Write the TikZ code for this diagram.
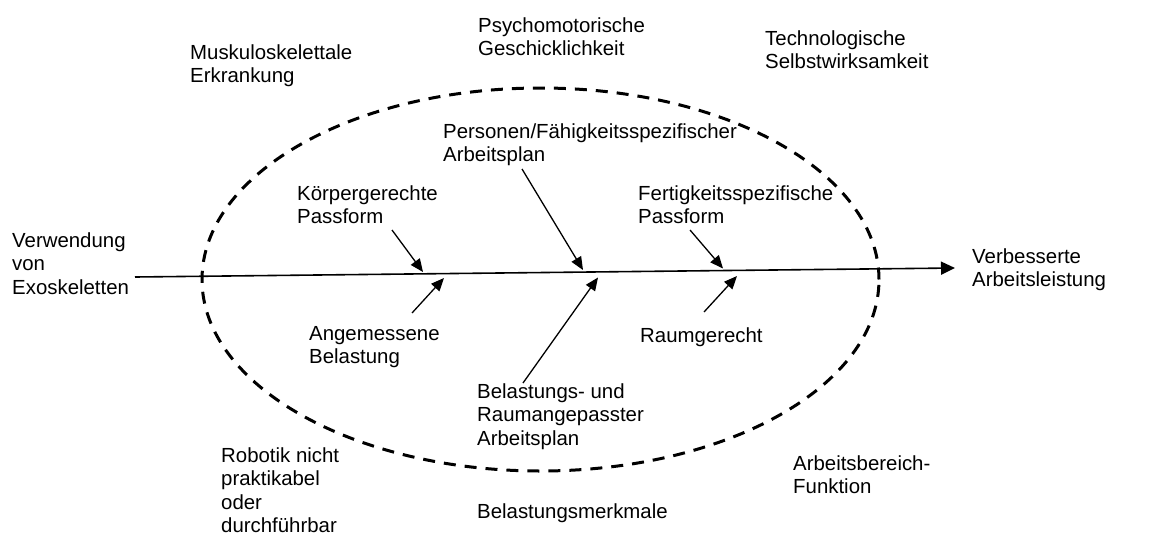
\documentclass[tikz,border=0pt]{standalone}
\usepackage{fontspec}
\setmainfont{Liberation Sans}
\usetikzlibrary{arrows.meta}
\newcommand{\mlines}[1]{\begin{tabular}[t]{@{}l@{}}#1\end{tabular}}
\begin{document}
\begin{tikzpicture}[x=1pt,y=-1pt,
  lbl/.style={anchor=base west,inner sep=0pt,font=\fontsize{20.4}{23.5}\selectfont},
  arr/.style={line width=1.3pt,-{Triangle[length=13pt,width=11pt]}},
  mainarr/.style={line width=1.6pt,-{Triangle[length=14pt,width=13pt]}},
  bound/.style={line width=3pt,dash pattern=on 12pt off 9pt}]
\useasboundingbox (0,0) rectangle (1155,538);
\fill[white] (0,0) rectangle (1155,538);
% boundary ellipse
\coordinate (ec) at (540.5,279.5);
\draw[bound] (ec) ellipse [x radius=338.5pt, y radius=191.5pt];
% main axis
\coordinate (mstart) at (135,277);
\coordinate (mend) at (955,268);
\draw[mainarr] (mstart) -- (mend);
% labels outside
\node[lbl] (musk) at (190,59) {\mlines{Muskuloskelettale\\Erkrankung}};
\node[lbl] (psy) at (478,32) {\mlines{Psychomotorische\\Geschicklichkeit}};
\node[lbl] (tech) at (765,45) {\mlines{Technologische\\Selbstwirksamkeit}};
\node[lbl] (verw) at (12,247) {\mlines{Verwendung\\von\\Exoskeletten}};
\node[lbl] (verb) at (972,263) {\mlines{Verbesserte\\Arbeitsleistung}};
\node[lbl] (robo) at (221,462) {\mlines{Robotik nicht\\praktikabel\\oder\\durchführbar}};
\node[lbl] (arbb) at (793,470) {\mlines{Arbeitsbereich-\\Funktion}};
\node[lbl] (belm) at (477,518) {Belastungsmerkmale};
% labels inside
\node[lbl] (pers) at (443,138) {\mlines{Personen/Fähigkeitsspezifischer\\Arbeitsplan}};
\node[lbl] (koer) at (297,200) {\mlines{Körpergerechte\\Passform}};
\node[lbl] (fert) at (638,200) {\mlines{Fertigkeitsspezifische\\Passform}};
\node[lbl] (ange) at (309,340) {\mlines{Angemessene\\Belastung}};
\node[lbl] (raum) at (640,342) {Raumgerecht};
\node[lbl] (bela) at (477,398) {\mlines{Belastungs- und\\Raumangepasster\\Arbeitsplan}};
% arrow ends
\coordinate (kt) at (392,230); \coordinate (kh) at (423,272);
\coordinate (pt) at (522,169); \coordinate (ph) at (583,270);
\coordinate (ft) at (690,230); \coordinate (fh) at (723,268.5);
\coordinate (at) at (412,313); \coordinate (ah) at (444,278);
\coordinate (bt) at (523,383); \coordinate (bh) at (598,277.5);
\coordinate (rt) at (704,312); \coordinate (rh) at (737,276);
\draw[arr] (kt) -- (kh);
\draw[arr] (pt) -- (ph);
\draw[arr] (ft) -- (fh);
\draw[arr] (at) -- (ah);
\draw[arr] (bt) -- (bh);
\draw[arr] (rt) -- (rh);
\end{tikzpicture}
\end{document}
